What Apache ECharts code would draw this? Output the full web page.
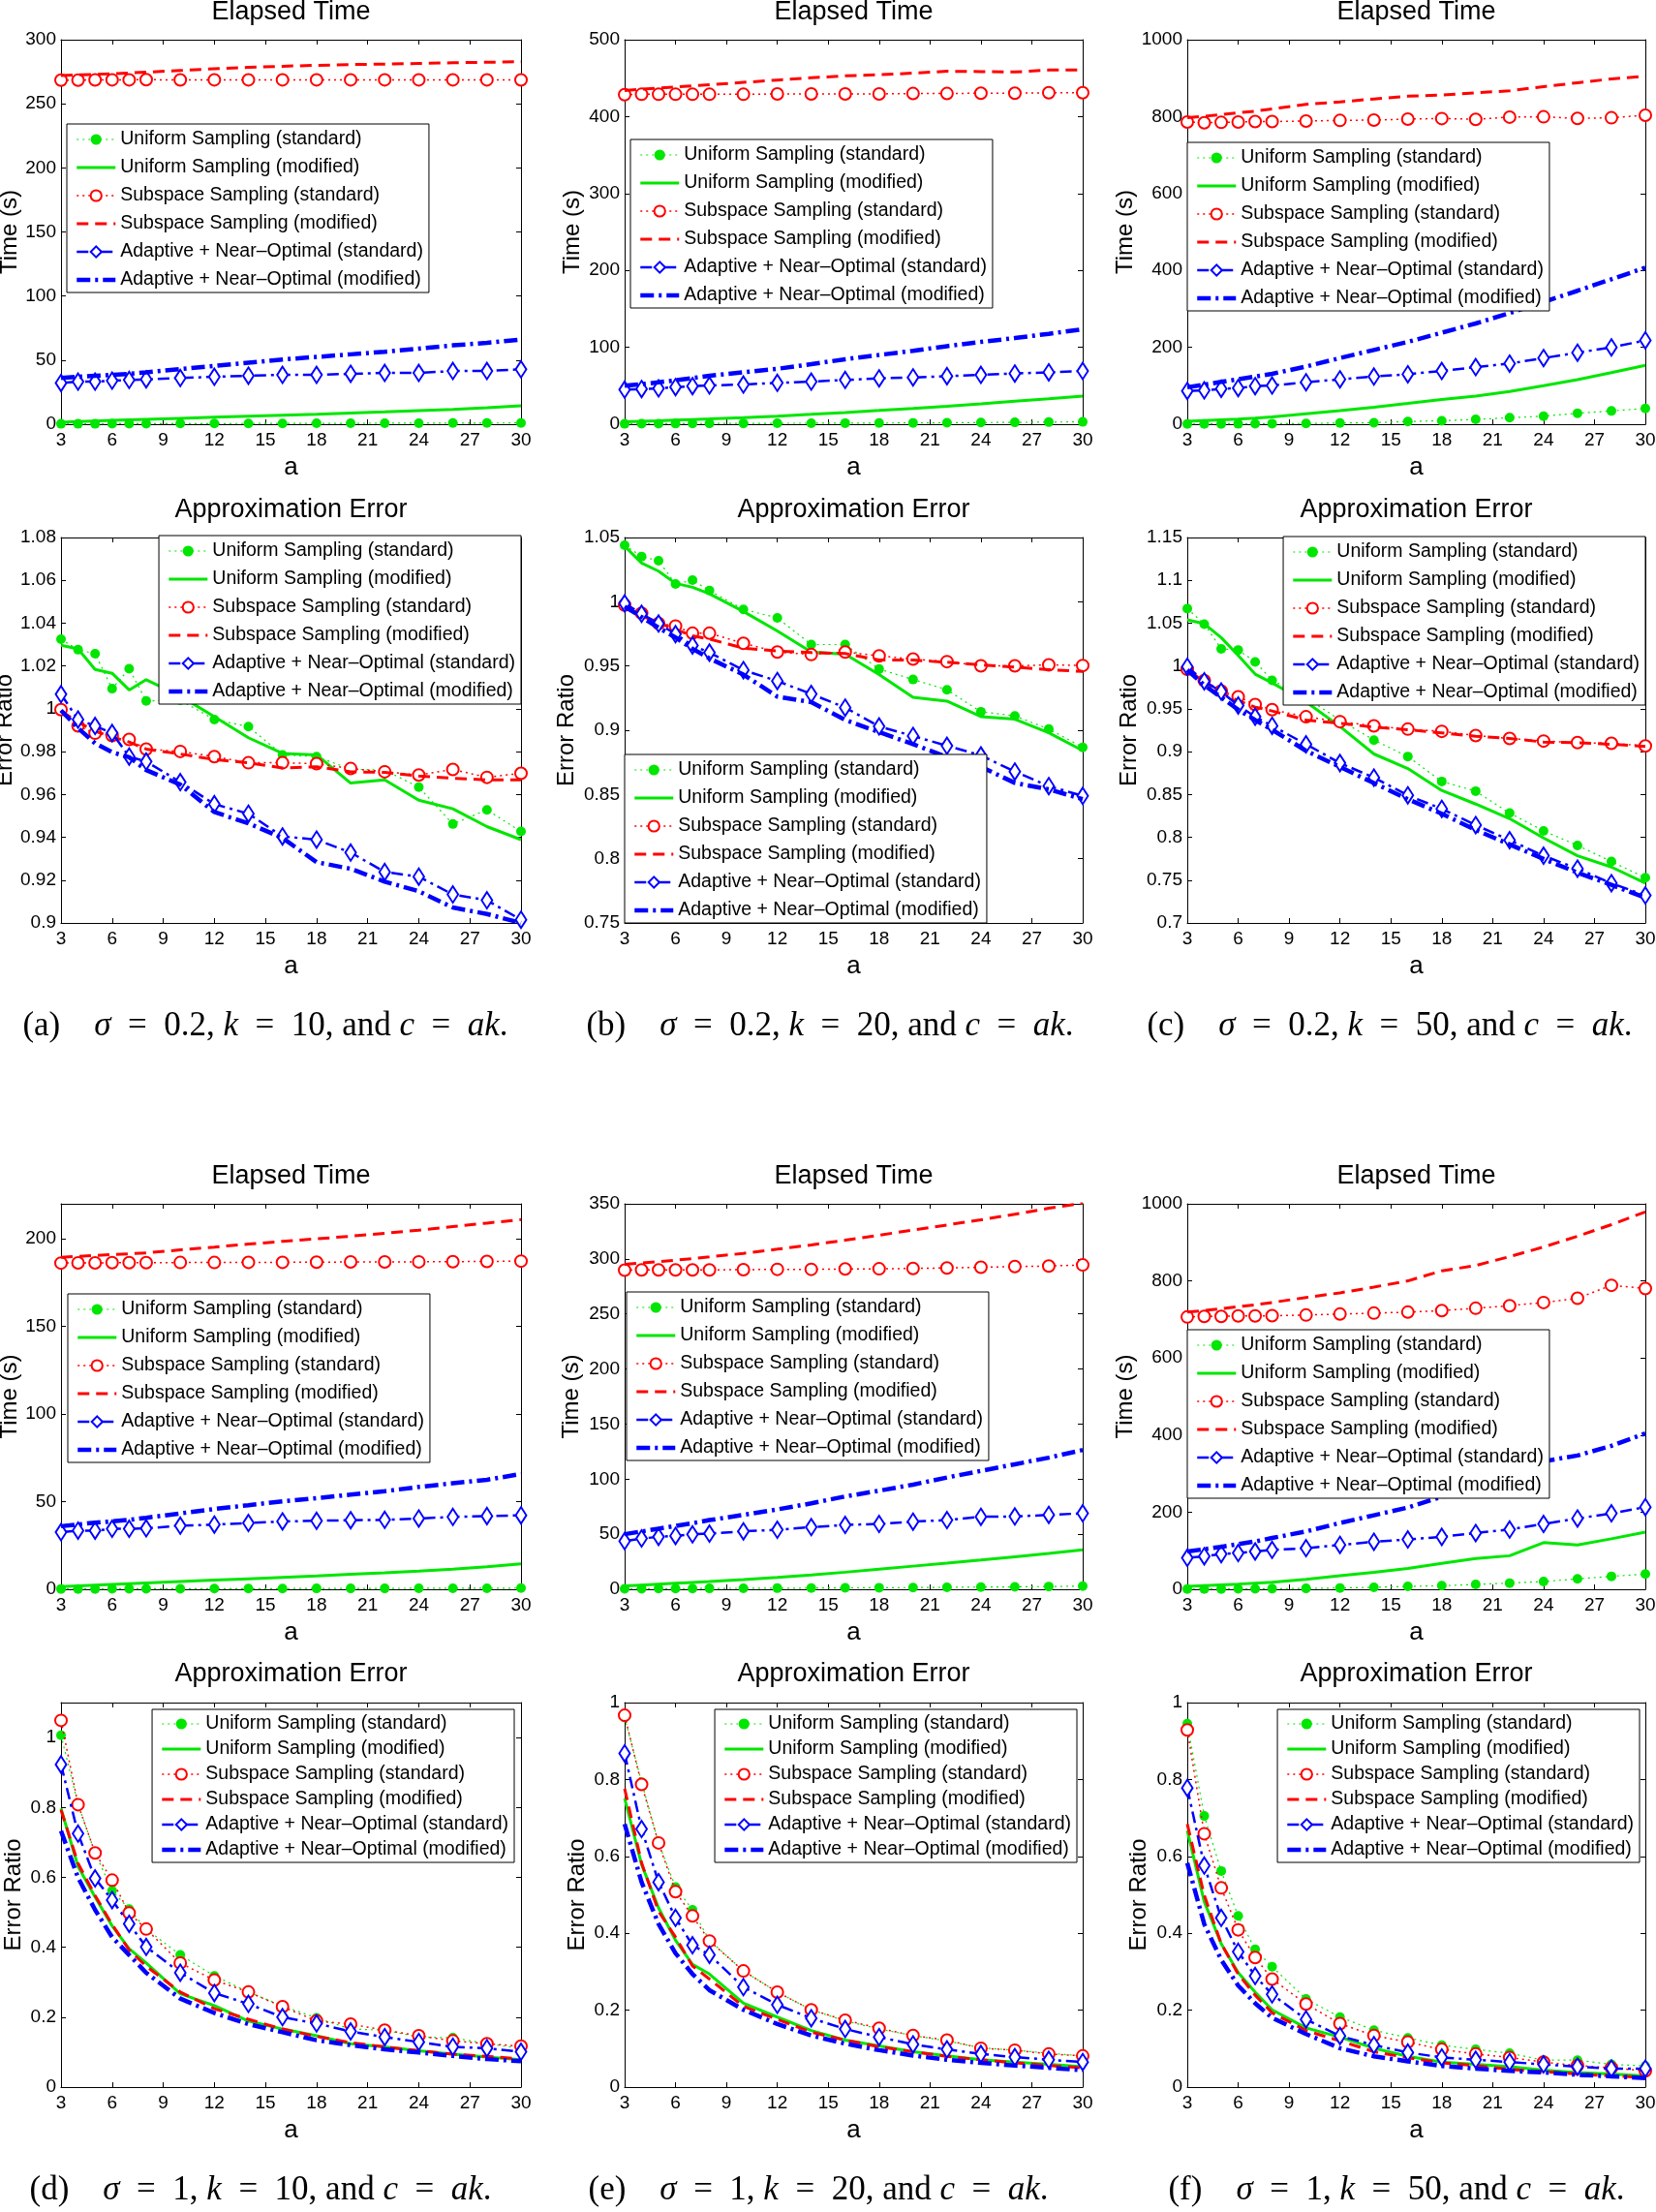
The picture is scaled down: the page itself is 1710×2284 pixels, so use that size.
<!DOCTYPE html>
<html><head><meta charset="utf-8">
<script src="https://cdn.jsdelivr.net/npm/echarts/dist/echarts.min.js"></script>
<style>html,body{margin:0;padding:0;background:#fff}#c{width:1710px;height:2284px}</style>
</head><body><div id="c"></div><script>
// ---------- data ----------
const aValues = [3,4,5,6,7,8,10,12,14,16,18,20,22,24,26,28,30];
const xTickValues = [3,6,9,12,15,18,21,24,27,30];
const seriesNames = [
  'Uniform Sampling (standard)',
  'Uniform Sampling (modified)',
  'Subspace Sampling (standard)',
  'Subspace Sampling (modified)',
  'Adaptive + Near\u2013Optimal (standard)',
  'Adaptive + Near\u2013Optimal (modified)'
];
const panelTitles = ['Elapsed Time','Elapsed Time','Elapsed Time','Approximation Error','Approximation Error','Approximation Error',
  'Elapsed Time','Elapsed Time','Elapsed Time','Approximation Error','Approximation Error','Approximation Error'];
const yNames = ['Time (s)','Time (s)','Time (s)','Error Ratio','Error Ratio','Error Ratio',
  'Time (s)','Time (s)','Time (s)','Error Ratio','Error Ratio','Error Ratio'];
const yMins = [0,0,0, 0.9,0.75,0.7, 0,0,0, 0,0,0];
const yMaxs = [300,500,1000, 1.08,1.05,1.15, 220,350,1000, 1.1,1,1];
const yIntervals = [50,100,200, 0.02,0.05,0.05, 50,50,200, 0.2,0.2,0.2];
const captionLetters = ['a','b','c','d','e','f'];
const captionSigmas = ['0.2','0.2','0.2','1','1','1'];
const captionKs = ['10','20','50','10','20','50'];

// (a) sigma=0.2, k=10
const tA_uStd = [0.3,0.3,0.3,0.4,0.4,0.4,0.5,0.5,0.6,0.6,0.7,0.7,0.8,0.8,0.9,0.9,1.0];
const tA_uMod = [1.5,2,2.5,3,3.4,3.8,4.6,5.4,6.2,7,7.8,8.7,9.6,10.6,11.6,12.8,14.3];
const tA_sStd = [268.5,268.5,268.6,268.7,268.7,268.8,268.6,268.7,268.7,268.7,268.7,268.7,268.7,268.7,268.7,268.7,268.6];
const tA_sMod = [272,272.5,273,273.5,274,274.7,276,277.3,278.4,279.3,280,280.6,281,281.5,282,282.4,282.8];
const tA_aStd = [32.2,33.2,33.2,34,34.5,35,36,37,37.8,38.5,38.5,39.3,40,40,41.5,41.5,42.8];
const tA_aMod = [36,37,37.8,38.5,39.3,40.5,43,45.5,48,50.5,52.5,54.5,56.5,59,61.5,63.5,66];
const eA_uStd = [1.0325,1.0276,1.0257,1.0094,1.0187,1.0037,1.004,0.995,0.9917,0.9785,0.9777,0.9718,0.9714,0.9634,0.9462,0.9528,0.9427];
const eA_uMod = [1.0297,1.028,1.0184,1.0166,1.0088,1.0136,1.006,0.9963,0.9865,0.9792,0.9785,0.9653,0.9668,0.9573,0.9533,0.945,0.9389];
const eA_sStd = [0.9996,0.992,0.9886,0.9875,0.9857,0.9812,0.9801,0.9777,0.9748,0.9748,0.9744,0.9721,0.9706,0.9691,0.9717,0.968,0.9699];
const eA_sMod = [0.999,0.9938,0.9895,0.9869,0.9845,0.9812,0.9789,0.9763,0.9748,0.9724,0.9729,0.9706,0.9703,0.9686,0.9676,0.9668,0.9668];
const eA_aStd = [1.0068,0.995,0.992,0.9887,0.9777,0.9754,0.9658,0.9555,0.951,0.9404,0.9389,0.9329,0.9238,0.9216,0.9133,0.9106,0.9015];
const eA_aMod = [0.9993,0.991,0.9839,0.9797,0.9774,0.9714,0.9646,0.9518,0.9465,0.9397,0.9284,0.9253,0.9193,0.9148,0.9072,0.9042,0.9];

// (b) sigma=0.2, k=20
const tB_uStd = [0.5,0.6,0.7,0.8,0.9,1,1.1,1.2,1.3,1.4,1.5,1.7,1.9,2.1,2.4,2.7,3.0];
const tB_uMod = [3,3.7,4.4,5.2,6,6.8,8.5,10.5,12.8,15.2,17.8,20.5,23.3,26.5,29.8,33,36.5];
const tB_sStd = [428.5,429,429,429,429,429,429,429.5,429.5,429.5,429.5,430,430,430.5,430.5,431,431];
const tB_sMod = [434,435.5,437,438.5,440,441.5,444.5,447.5,450.5,453,454.5,456.5,459,458.5,458,460.5,460.5];
const tB_aStd = [44.9,45.7,46.5,48.2,49.5,50.3,51.6,53.7,55.4,57.5,59.6,60.8,62.5,64.2,65.9,67.5,69.2];
const tB_aMod = [50,52,54.5,57,60,63,67.5,72,78,84.5,90,95.5,101.5,107,112,117.5,123.5];
const eB_uStd = [1.044,1.0352,1.0319,1.0138,1.0168,1.0087,0.9941,0.9874,0.9667,0.9667,0.9476,0.9395,0.9315,0.9144,0.9111,0.901,0.8867];
const eB_uMod = [1.0432,1.0301,1.0238,1.0143,1.0113,1.0062,0.9924,0.9773,0.9609,0.9592,0.9433,0.9257,0.9227,0.9106,0.9086,0.898,0.8842];
const eB_sStd = [0.9974,0.9911,0.9831,0.9811,0.9755,0.9755,0.9677,0.9609,0.9589,0.9609,0.9579,0.9554,0.9534,0.9501,0.9501,0.9509,0.9504];
const eB_sMod = [0.9962,0.9891,0.9836,0.9785,0.9735,0.971,0.9639,0.9617,0.9604,0.9597,0.9546,0.9546,0.9529,0.9509,0.9491,0.9471,0.9458];
const eB_aStd = [0.9987,0.9906,0.9831,0.9748,0.966,0.9604,0.9468,0.9383,0.9282,0.9176,0.903,0.8955,0.8879,0.8804,0.8678,0.8565,0.8489];
const eB_aMod = [0.9962,0.9881,0.9798,0.9722,0.9634,0.9559,0.9433,0.9262,0.9219,0.9081,0.8985,0.8892,0.8791,0.8716,0.859,0.854,0.8464];

// (c) sigma=0.2, k=50
const tC_uStd = [0.5,0.7,0.9,1,1.2,1.5,2,3,4,7,9,12.6,16.8,21,28.5,34.4,41];
const tC_uMod = [7.5,9.5,11.5,13.5,16,19,27,35,44,54,64.5,73,85,100,116,134,153];
const tC_sStd = [786,784,785,786,787,787,788.6,790,791,793.6,795,793,798.7,799.5,795.3,797,803.7];
const tC_sMod = [797,801,805,810,814,820,832,838,846,853,856,862,867,878,888,898,905];
const tC_aStd = [86.4,88,92,94,99,100.7,109,116.6,124,130,138.4,148.5,157.7,172,186,199.7,218];
const tC_aMod = [96,103,110,117,124,131,150,172,193,214,238,262,289,318,347,377,407];
const eC_uStd = [1.067,1.0489,1.0199,1.0187,1.0048,0.9833,0.963,0.9369,0.9135,0.8943,0.8652,0.8539,0.8283,0.8075,0.7905,0.7717,0.7528];
const eC_uMod = [1.0538,1.0493,1.0331,1.0123,0.9905,0.9803,0.958,0.9294,0.8973,0.8803,0.8547,0.8388,0.8218,0.7992,0.7785,0.7653,0.7464];
const eC_sStd = [0.9961,0.9829,0.9708,0.9641,0.955,0.949,0.9407,0.935,0.9301,0.9263,0.9237,0.9188,0.9154,0.9124,0.9105,0.9097,0.9067];
const eC_sMod = [0.9954,0.9822,0.969,0.9595,0.952,0.9475,0.9369,0.9331,0.9286,0.9256,0.9218,0.918,0.9154,0.9112,0.9105,0.9086,0.906];
const eC_aStd = [0.9991,0.9822,0.9701,0.9539,0.9407,0.9301,0.9086,0.8867,0.8697,0.849,0.8332,0.8143,0.7966,0.7785,0.7634,0.7464,0.7321];
const eC_aMod = [0.9954,0.9776,0.9633,0.949,0.9369,0.9256,0.901,0.8822,0.8633,0.8445,0.8275,0.8086,0.7917,0.7747,0.7588,0.7445,0.7294];

// (d) sigma=1, k=10
const tD_uStd = [0.2,0.2,0.2,0.3,0.3,0.3,0.3,0.4,0.4,0.4,0.5,0.5,0.5,0.6,0.6,0.6,0.7];
const tD_uMod = [1.5,2,2.4,2.8,3.2,3.6,4.4,5.2,6,6.8,7.6,8.5,9.4,10.4,11.5,12.8,14.5];
const tD_sStd = [186.2,186.3,186.3,186.4,186.4,186.4,186.5,186.5,186.6,186.6,186.7,186.8,186.8,186.9,187,187.1,187.3];
const tD_sMod = [189.5,190,190.5,191,191.5,192,193.7,195.3,197,198.6,200,201.5,203.2,205,207,209,211];
const tD_aStd = [32.6,33.5,33.5,34.5,34.5,34.8,36.3,36.9,37.8,38.7,39.1,39.4,39.6,40.4,41.3,41.8,42.2];
const tD_aMod = [36,37,38,38.8,39.6,40.8,43.3,45.8,48,50.2,52,54,56,58.4,60.5,62.5,65.8];
const eD_uStd = [1.0065,0.809,0.67,0.562,0.509,0.452,0.378,0.318,0.272,0.232,0.198,0.166,0.163,0.143,0.141,0.124,0.111];
const eD_uMod = [0.797,0.631,0.544,0.461,0.396,0.355,0.267,0.233,0.189,0.166,0.147,0.124,0.115,0.104,0.094,0.086,0.078];
const eD_sStd = [1.049,0.808,0.67,0.592,0.498,0.452,0.355,0.306,0.272,0.23,0.189,0.18,0.163,0.147,0.132,0.124,0.117];
const eD_sMod = [0.793,0.64,0.548,0.465,0.392,0.346,0.272,0.224,0.194,0.166,0.145,0.127,0.115,0.104,0.094,0.088,0.08];
const eD_aStd = [0.923,0.725,0.597,0.535,0.467,0.401,0.327,0.269,0.238,0.2,0.182,0.159,0.143,0.129,0.115,0.111,0.101];
const eD_aMod = [0.733,0.599,0.507,0.429,0.378,0.327,0.253,0.212,0.18,0.157,0.134,0.12,0.108,0.099,0.089,0.08,0.074];

// (e) sigma=1, k=20
const tE_uStd = [0.4,0.5,0.6,0.6,0.7,0.8,0.9,1,1.1,1.3,1.4,1.6,1.8,2,2.2,2.5,2.8];
const tE_uMod = [3,3.8,4.6,5.4,6.2,7,8.8,10.8,13,15.5,18.3,21,23.7,26.5,29.5,32.5,35.8];
const tE_sStd = [289.8,290,290,290,290,290,290.2,290.5,290.5,290.8,291,291.3,291.8,292.4,293,293.5,294.5];
const tE_sMod = [295,296.2,297.5,298.8,300.2,301.8,305,308.8,312.7,317,321.5,326.2,330.8,335.5,340.5,346,350.5];
const tE_aStd = [43.7,46.1,47.6,48.4,49.9,50.5,52.6,54,56.4,58.4,59.3,61.4,62.8,65.8,66.1,67.5,69];
const tE_aMod = [50,52.5,55,57.5,60,62.8,67.5,72.5,78,84.3,89.5,95,101.5,107.5,113.5,119.5,126.5];
const eE_uStd = [0.961,0.793,0.635,0.52,0.461,0.382,0.302,0.247,0.201,0.172,0.151,0.134,0.12,0.102,0.096,0.088,0.081];
const eE_uMod = [0.751,0.579,0.466,0.382,0.319,0.294,0.218,0.182,0.147,0.122,0.107,0.092,0.081,0.071,0.065,0.059,0.053];
const eE_sStd = [0.967,0.787,0.635,0.508,0.445,0.38,0.302,0.247,0.201,0.174,0.153,0.134,0.122,0.101,0.096,0.086,0.081];
const eE_sMod = [0.776,0.583,0.457,0.39,0.315,0.281,0.21,0.176,0.143,0.122,0.105,0.092,0.08,0.071,0.063,0.056,0.05];
const eE_aStd = [0.868,0.671,0.533,0.44,0.369,0.344,0.26,0.214,0.179,0.151,0.13,0.111,0.098,0.086,0.078,0.071,0.065];
const eE_aMod = [0.684,0.533,0.424,0.348,0.294,0.252,0.201,0.164,0.134,0.113,0.096,0.082,0.071,0.063,0.056,0.05,0.044];

// (f) sigma=1, k=50
const tF_uStd = [0.5,0.7,0.9,1.1,1.3,1.6,2.2,3.4,5,7.5,9.2,12.6,16,20,27,33.6,39.4];
const tF_uMod = [7.5,9.5,11.5,13.5,16,18.5,26,35,44,54,67,80,87,121,115,131,148];
const tF_sStd = [706.4,708,708,709,709,709.7,711.4,714,716.4,719,723,729,735.7,744,755,788.6,780.2];
const tF_sMod = [719,723,728,733,738,744,757,769,784,800,826,840,863,888,916,946,979];
const tF_aStd = [81.4,85.6,91.4,94,98,102.3,106.5,115,123.3,129.2,136,146,155,169.5,183.7,197,213];
const tF_aMod = [98,104,110,117,124,133,150,172,192,212,240,270,302,332,347,372,404];
const eF_uStd = [0.945,0.705,0.562,0.445,0.358,0.313,0.229,0.182,0.148,0.128,0.109,0.098,0.088,0.07,0.07,0.059,0.055];
const eF_uMod = [0.667,0.482,0.373,0.298,0.247,0.201,0.154,0.13,0.101,0.08,0.065,0.059,0.053,0.044,0.038,0.034,0.029];
const eF_sStd = [0.929,0.659,0.518,0.409,0.337,0.281,0.216,0.165,0.134,0.117,0.098,0.086,0.077,0.065,0.056,0.05,0.042];
const eF_sMod = [0.684,0.499,0.373,0.294,0.239,0.193,0.147,0.12,0.092,0.076,0.063,0.056,0.046,0.04,0.034,0.029,0.025];
const eF_aStd = [0.778,0.576,0.44,0.352,0.289,0.241,0.176,0.133,0.109,0.09,0.077,0.071,0.065,0.059,0.053,0.048,0.048];
const eF_aMod = [0.583,0.424,0.331,0.264,0.218,0.18,0.138,0.101,0.08,0.067,0.055,0.048,0.042,0.038,0.032,0.028,0.023];

const panelData = [
  [tA_uStd,tA_uMod,tA_sStd,tA_sMod,tA_aStd,tA_aMod],
  [tB_uStd,tB_uMod,tB_sStd,tB_sMod,tB_aStd,tB_aMod],
  [tC_uStd,tC_uMod,tC_sStd,tC_sMod,tC_aStd,tC_aMod],
  [eA_uStd,eA_uMod,eA_sStd,eA_sMod,eA_aStd,eA_aMod],
  [eB_uStd,eB_uMod,eB_sStd,eB_sMod,eB_aStd,eB_aMod],
  [eC_uStd,eC_uMod,eC_sStd,eC_sMod,eC_aStd,eC_aMod],
  [tD_uStd,tD_uMod,tD_sStd,tD_sMod,tD_aStd,tD_aMod],
  [tE_uStd,tE_uMod,tE_sStd,tE_sMod,tE_aStd,tE_aMod],
  [tF_uStd,tF_uMod,tF_sStd,tF_sMod,tF_aStd,tF_aMod],
  [eD_uStd,eD_uMod,eD_sStd,eD_sMod,eD_aStd,eD_aMod],
  [eE_uStd,eE_uMod,eE_sStd,eE_sMod,eE_aStd,eE_aMod],
  [eF_uStd,eF_uMod,eF_sStd,eF_sMod,eF_aStd,eF_aMod]
];

// ---------- layout & style ----------
const FONT = '"Liberation Sans", Arial, Helvetica, sans-serif';
const SERIF = '"Liberation Serif", "Times New Roman", serif';
const G = '#00e600', R = '#ff0000', B = '#0000ff';
const colLeft = [63, 645, 1226], colWidth = [475, 473, 473];
const rowTop = [41, 555, 1243, 1758], rowHeight = [397, 398, 398, 397];
const titleY = [13, 527, 1215, 1729];
const nameGaps = [40,42,52, 42,48,48, 41,43,52, 37,37,38];
// legend placement: [side, offset, top, rowGap]
const legendPos = [
  ['left',69,128,9], ['left',651,144,9], ['left',1226,147,9],
  ['right',1172,553,9], ['left',645,779,9], ['right',11,554,9],
  ['left',70,1336,9], ['left',647,1334,9], ['left',1226,1373,9],
  ['right',1179,1765,6], ['right',598,1765,6], ['right',17,1765,6]
];
const captionPos = [[274,1060],[857,1060],[1435,1060],[269,2262],[845,2262],[1442,2262]];

const styles = [
  {color:G, width:1.2, type:[2,4], symbol:'circle', size:10, bw:0},
  {color:G, width:3, type:'solid', symbol:'none'},
  {color:R, width:1.5, type:[2,4], symbol:'emptyCircle', size:12, bw:3},
  {color:R, width:3, type:[12,7], symbol:'none'},
  {color:B, width:2.5, type:[12,5,3,5], symbol:'emptyDiamond', size:[11,17], bw:2.5},
  {color:B, width:4.5, type:[14,5,3,5], symbol:'none'}
];

const option = {animation:false, backgroundColor:'#fff', title:[], grid:[], xAxis:[], yAxis:[], legend:[], series:[], graphic:[]};

function isMult(v, iv){ const q = v/iv; return Math.abs(q - Math.round(q)) < 1e-6; }
const axisLineStyle = {show:true, onZero:false, lineStyle:{color:'#000', width:1}};
const tickStyle = {show:true, inside:true, length:5, lineStyle:{color:'#000', width:1}};
const legendItems = seriesNames.map((n, k) => {
  const s = styles[k];
  const it = {name:n, lineStyle:{color:s.color, width:s.width, type:s.type}};
  if (s.symbol === 'none') it.itemStyle = {opacity:0};
  return it;
});

for (let i = 0; i < 12; i++) {
  const r = Math.floor(i/3), c = i%3;
  const L = colLeft[c], T = rowTop[r], W = colWidth[c], H = rowHeight[r];
  option.grid.push({left:L, top:T, width:W, height:H, containLabel:false, outerBoundsMode:'none', show:false});
  option.title.push({text:panelTitles[i], left:L+W/2, top:titleY[r], textAlign:'center', textVerticalAlign:'middle', padding:0,
    textStyle:{fontSize:27, fontWeight:'normal', fontFamily:FONT, color:'#000'}});
  const iv = yIntervals[i];
  option.xAxis.push({type:'value', gridIndex:i, position:'bottom', min:xTickValues[0], max:xTickValues[xTickValues.length-1], interval:xTickValues[1]-xTickValues[0],
    name:'a', nameLocation:'middle', nameGap:32, nameTextStyle:{fontSize:26, fontFamily:FONT, color:'#000'},
    axisLine:axisLineStyle, axisTick:tickStyle, splitLine:{show:false},
    axisLabel:{margin:7, fontSize:19, fontFamily:FONT, color:'#000', showMinLabel:true, showMaxLabel:true}});
  option.xAxis.push({type:'value', gridIndex:i, position:'top', min:3, max:30, interval:3,
    axisLine:axisLineStyle, axisTick:tickStyle, splitLine:{show:false}, axisLabel:{show:false}});
  option.yAxis.push({type:'value', gridIndex:i, position:'left', min:yMins[i], max:yMaxs[i], interval:iv,
    name:yNames[i], nameLocation:'middle', nameGap:nameGaps[i], nameRotate:90, nameTextStyle:{fontSize:24, fontFamily:FONT, color:'#000'},
    axisLine:axisLineStyle, axisTick:tickStyle, splitLine:{show:false},
    axisLabel:{margin:5, fontSize:19, fontFamily:FONT, color:'#000', showMinLabel:true, showMaxLabel:true,
      formatter:(v)=> isMult(v, iv) ? String(parseFloat(Number(v).toFixed(4))) : ''}});
  option.yAxis.push({type:'value', gridIndex:i, position:'right', min:yMins[i], max:yMaxs[i], interval:iv,
    axisLine:axisLineStyle, axisTick:tickStyle, splitLine:{show:false}, axisLabel:{show:false}});
  const lp = legendPos[i];
  const lg = {orient:'vertical', top:lp[2], padding:(lp[3]===9?[6,6,3,8]:[5,6,3,8]), itemWidth:40, itemHeight:14, itemGap:lp[3],
    backgroundColor:'#fff', borderColor:'#000', borderWidth:1, borderRadius:0, selectedMode:false, z:10,
    textStyle:{fontSize:19.5, fontFamily:FONT, color:'#000', lineHeight:20},
    data:legendItems.map(d => JSON.parse(JSON.stringify(d)))};
  lg[lp[0]] = lp[1];
  option.legend.push(lg);
  panelData[i].forEach((arr, k) => {
    const s = styles[k];
    option.series.push({
      type:'line', name:seriesNames[k], xAxisIndex:2*i, yAxisIndex:2*i,
      data:aValues.map((x, j) => [x, arr[j]]),
      symbol:s.symbol, showSymbol:s.symbol !== 'none', symbolSize:s.size || 4,
      itemStyle:{color:s.color, borderColor:s.color, borderWidth:s.bw || 0},
      lineStyle:{color:s.color, width:s.width, type:s.type},
      silent:true, clip:true, z:2+k*0.01
    });
  });
}

for (let j = 0; j < 6; j++) {
  const txt = '(' + captionLetters[j] + ')\u2003{i|\u03c3}\u2002=\u2002' + captionSigmas[j] + ', {i|k}\u2002=\u2002' + captionKs[j] +
    ', and {i|c}\u2002=\u2002{i|ak}.';
  option.graphic.push({type:'text', x:captionPos[j][0], y:captionPos[j][1], silent:true,
    style:{text:txt, fontFamily:SERIF, fontSize:35, fill:'#000', align:'center', verticalAlign:'middle',
      rich:{i:{fontStyle:'italic', fontFamily:SERIF, fontSize:35, fill:'#000'}}}});
}

const chart = echarts.init(document.getElementById('c'), null, {renderer:'canvas'});
chart.setOption(option);
</script></body></html>
